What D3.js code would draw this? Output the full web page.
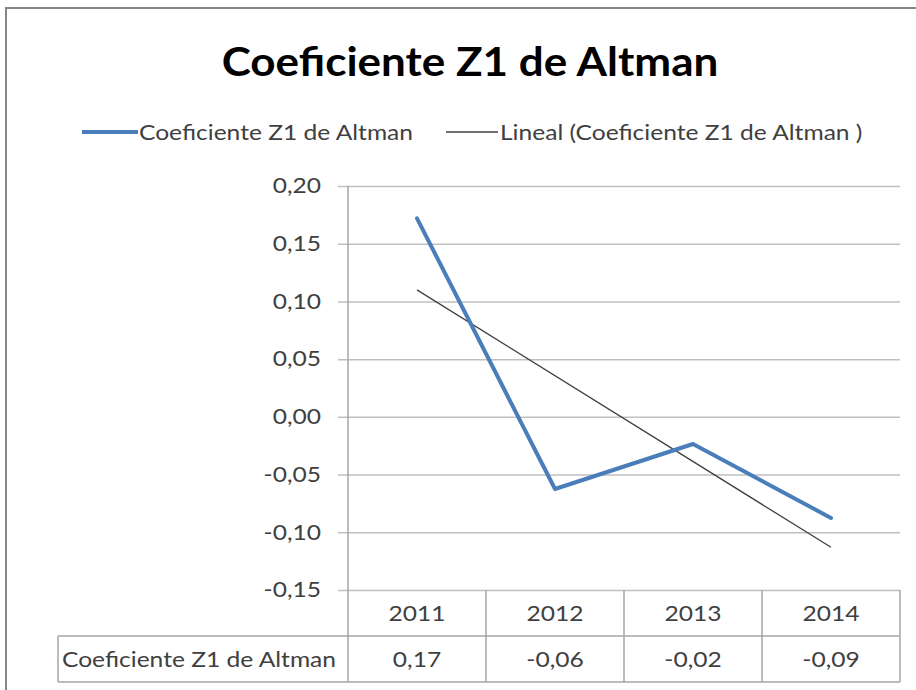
<!DOCTYPE html>
<html><head><meta charset="utf-8">
<script src="https://cdn.jsdelivr.net/npm/d3@7"></script>
<style>body{margin:0;background:#fff;}svg{display:block;}</style>
</head><body>
<script>
const title = "Coeficiente Z1 de Altman";
const seriesName = "Coeficiente Z1 de Altman";
const trendName = "Lineal (Coeficiente Z1 de Altman )";
const years = ["2011","2012","2013","2014"];
const values = [0.172, -0.0625, -0.0235, -0.0876];
const valueLabels = ["0,17","-0,06","-0,02","-0,09"];
const trendValues = [0.110, -0.113];
const yTicks = [0.20,0.15,0.10,0.05,0.00,-0.05,-0.10,-0.15];

(function(){
const W=916,H=690;
const font = "Lato, 'Open Sans', sans-serif";
const FS = 21, STRETCH = 1.17;
const svg = d3.select("body").append("svg").attr("width",W).attr("height",H);
svg.append("rect").attr("x",6).attr("y",8).attr("width",940).attr("height",720)
  .attr("fill","#fff").attr("stroke","#868686").attr("stroke-width",2);

function stretch(sel, f){
  sel.each(function(){
    const l = this.getComputedTextLength();
    d3.select(this).attr("textLength", l*f).attr("lengthAdjust","spacingAndGlyphs");
  });
}

svg.append("text").attr("x",470).attr("y",76).attr("text-anchor","middle")
  .attr("font-family",font).attr("font-weight","bold").attr("font-size",40)
  .attr("fill","#000").text(title).call(stretch,1.1);

const pL=348,pR=900,pT=186,pB=590;
const x = d3.scaleBand().domain(years).range([pL,pR]);
const y = d3.scaleLinear().domain([-0.15,0.20]).range([pB,pT]);
const fmt = v => d3.format(".2f")(v).replace(".",",").replace("−","-");

const yAxis = d3.axisLeft(y).tickValues(yTicks).tickSize(-(pR-pL)).tickSizeOuter(0).tickFormat(fmt).tickPadding(27);
const ga = svg.append("g").attr("transform",`translate(${pL},0)`).call(yAxis);
ga.select(".domain").remove();
ga.selectAll(".tick line").attr("stroke","#bfbfbf").attr("stroke-width",1.5).attr("x1",-10);
ga.selectAll(".tick text").attr("font-family",font).attr("font-size",FS).attr("fill","#404040").call(stretch,STRETCH);
svg.append("line").attr("x1",pL).attr("x2",pL).attr("y1",pT).attr("y2",pB)
  .attr("stroke","#a6a6a6").attr("stroke-width",1.5);

const rowH=46;
const tg = svg.append("g");
const tStroke="#a6a6a6";
tg.append("line").attr("x1",58).attr("x2",pR).attr("y1",pB+rowH).attr("y2",pB+rowH).attr("stroke",tStroke).attr("stroke-width",1.5);
tg.append("line").attr("x1",58).attr("x2",pR).attr("y1",pB+2*rowH).attr("y2",pB+2*rowH).attr("stroke",tStroke).attr("stroke-width",1.5);
tg.append("line").attr("x1",58).attr("x2",58).attr("y1",pB+rowH).attr("y2",pB+2*rowH).attr("stroke",tStroke).attr("stroke-width",1.5);
const bounds = [pL].concat(years.map(d=>x(d)+x.bandwidth()));
bounds.forEach(b=>tg.append("line").attr("x1",b).attr("x2",b).attr("y1",pB).attr("y2",pB+2*rowH).attr("stroke",tStroke).attr("stroke-width",1.5));
years.forEach((d,i)=>{
  tg.append("text").attr("x",x(d)+x.bandwidth()/2).attr("y",pB+rowH/2+8).attr("text-anchor","middle")
    .attr("font-family",font).attr("font-size",FS).attr("fill","#404040").text(d).call(stretch,STRETCH);
  tg.append("text").attr("x",x(d)+x.bandwidth()/2).attr("y",pB+rowH*1.5+8).attr("text-anchor","middle")
    .attr("font-family",font).attr("font-size",FS).attr("fill","#404040").text(valueLabels[i]).call(stretch,STRETCH);
});
tg.append("text").attr("x",62).attr("y",pB+rowH*1.5+8)
  .attr("font-family",font).attr("font-size",FS).attr("fill","#404040").text(seriesName).call(stretch,STRETCH);

const xc = d => x(d)+x.bandwidth()/2;
svg.append("line").attr("x1",xc(years[0])).attr("y1",y(trendValues[0]))
  .attr("x2",xc(years[years.length-1])).attr("y2",y(trendValues[1]))
  .attr("stroke","#404040").attr("stroke-width",1.3);
const line = d3.line().x((d,i)=>xc(years[i])).y(d=>y(d));
svg.append("path").datum(values).attr("d",line).attr("fill","none")
  .attr("stroke","#4a7ebb").attr("stroke-width",4).attr("stroke-linejoin","round").attr("stroke-linecap","round");

const ly=132;
svg.append("line").attr("x1",82).attr("x2",138).attr("y1",ly).attr("y2",ly).attr("stroke","#4a7ebb").attr("stroke-width",4);
svg.append("text").attr("x",139).attr("y",ly+8).attr("font-family",font).attr("font-size",FS).attr("fill","#404040").text(seriesName).call(stretch,STRETCH);
svg.append("line").attr("x1",446).attr("x2",498).attr("y1",ly).attr("y2",ly).attr("stroke","#404040").attr("stroke-width",1.3);
svg.append("text").attr("x",500).attr("y",ly+8).attr("font-family",font).attr("font-size",FS).attr("fill","#404040").text(trendName).call(stretch,STRETCH);
})();
</script>
</body></html>
